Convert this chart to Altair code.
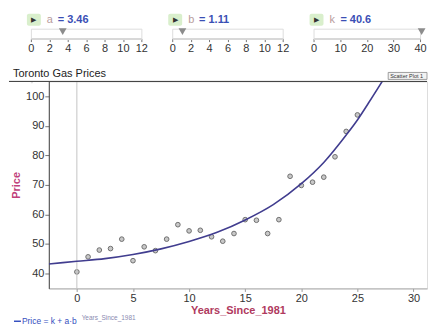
import altair as alt
import pandas as pd

# ---- data ----
slider_names = ["a", "b", "k"]
slider_values = [3.46, 1.11, 40.6]
slider_max = [12, 12, 40]
slider_steps = [2, 2, 10]

years = list(range(26))
prices = [40.5, 45.6, 47.9, 48.4, 51.6, 44.3, 49.0, 47.7, 51.6, 56.5,
          54.4, 54.6, 52.4, 50.9, 53.5, 58.2, 58.0, 53.5, 58.2, 72.9,
          69.8, 70.9, 72.6, 79.5, 88.1, 93.7]

curve_years = [-2.5, 0, 2.5, 5, 7.5, 10, 12.5, 15, 17.5, 20, 22, 24, 25, 26, 27.3]
curve_prices = [43.2, 44.1, 45.0, 46.4, 48.3, 50.8, 53.9, 58.1, 63.3, 70.4,
                77.6, 86.9, 92.0, 97.8, 105.6]

x_ticks = [0, 5, 10, 15, 20, 25, 30]
y_ticks = [40, 50, 60, 70, 80, 90, 100]

FONT = "Liberation Sans"
slider_widths = [111, 111, 107]


def make_slider(i):
    name, val, mx, step = slider_names[i], slider_values[i], slider_max[i], slider_steps[i]
    df = pd.DataFrame({"v": [val], "name": [name], "label": [f"= {val}"]})
    base = alt.Chart(df)
    xs = alt.Scale(domain=[0, mx], nice=False, zero=False)
    handle = base.mark_point(shape="triangle-down", filled=True, color="#8c8c8c",
                             size=60, opacity=1).encode(
        x=alt.X("v:Q", scale=xs,
                axis=alt.Axis(values=list(range(0, mx + 1, step)), title=None, grid=False,
                              tickSize=3, tickColor="#777", domainColor="#d8d8d8",
                              domainWidth=2, labelFontSize=11, labelColor="#333",
                              labelPadding=1, labelFont=FONT, labelFlush=False,
                              labelOverlap=False)),
        y=alt.value(3))
    play_bg = base.mark_rect(color="#d9efcc", cornerRadius=2).encode(
        x=alt.value(-4), x2=alt.value(10), y=alt.value(-15), y2=alt.value(-3))
    play = base.mark_text(text="▶", fontSize=7, color="#333").encode(
        x=alt.value(3), y=alt.value(-9))
    letter = base.mark_text(align="left", baseline="middle", fontSize=11,
                            color="#b99c9c", font=FONT).encode(
        x=alt.value(16), y=alt.value(-9), text="name:N")
    valtext = base.mark_text(align="left", baseline="middle", fontSize=11,
                             fontWeight="bold", color="#3b4fb5", font=FONT).encode(
        x=alt.value(27), y=alt.value(-9), text="label:N")
    layers = [handle, play_bg, play, letter, valtext]
    return alt.layer(*layers).properties(width=slider_widths[i], height=10)


sliders = alt.hconcat(*[make_slider(i) for i in range(3)], spacing=31, bounds="flush")

# ---- main chart ----
W, H = 380, 208
pts_df = pd.DataFrame({"Years_Since_1981": years, "Price": prices})
curve_df = pd.DataFrame({"Years_Since_1981": curve_years, "Price": curve_prices})
zero_df = pd.DataFrame({"Years_Since_1981": [0]})
xs = alt.Scale(domain=[-2.5, 31.2], nice=False, zero=False)
ys = alt.Scale(domain=[34.9, 105.05], nice=False, zero=False)

x_axis = alt.Axis(values=x_ticks, title="Years_Since_1981", grid=False,
                  titleColor="#b03a5e", titleFontWeight="bold", titleFontSize=11,
                  titleFont=FONT, titlePadding=1, labelFont=FONT, labelFontSize=11,
                  labelColor="#333", tickColor="#999", domainColor="#aaa",
                  tickSize=3, labelPadding=1, labelOverlap=False)
y_axis = alt.Axis(values=y_ticks, title="Price", grid=False,
                  titleColor="#c0407a", titleFontWeight="bold", titleFontSize=11,
                  titleFont=FONT, titlePadding=4, labelFont=FONT, labelFontSize=11,
                  labelColor="#333", tickColor="#777", domainColor="#444",
                  tickSize=4, labelPadding=1, labelOverlap=False)

points = alt.Chart(pts_df).mark_point(shape="circle", filled=True, fill="#c8c8c8",
                                      stroke="#707070", strokeWidth=1, size=22,
                                      opacity=1).encode(
    x=alt.X("Years_Since_1981:Q", scale=xs, axis=x_axis),
    y=alt.Y("Price:Q", scale=ys, axis=y_axis))

zero_rule = alt.Chart(zero_df).mark_rule(color="#c4c4c4", strokeWidth=1).encode(
    x=alt.X("Years_Since_1981:Q", scale=xs, axis=x_axis))

curve = alt.Chart(curve_df).mark_line(color="#413d8f", strokeWidth=1.6,
                                      interpolate="monotone", clip=True).encode(
    x=alt.X("Years_Since_1981:Q", scale=xs, axis=x_axis),
    y=alt.Y("Price:Q", scale=ys, axis=y_axis))

deco = alt.Chart(pd.DataFrame({"t": ["Toronto Gas Prices"]}))
top_line = deco.mark_rule(color="#333", strokeWidth=1).encode(
    x=alt.value(-40), x2=alt.value(W), y=alt.value(0))
title_txt = deco.mark_text(align="left", baseline="middle", fontSize=11,
                           color="#222", font=FONT).encode(
    x=alt.value(-36), y=alt.value(-7), text="t:N")
btn = deco.mark_rect(fill="#f2f2f2", stroke="#888", strokeWidth=0.8).encode(
    x=alt.value(341), x2=alt.value(W), y=alt.value(-9), y2=alt.value(-2))
btn_txt = deco.mark_text(align="left", baseline="middle", fontSize=5.5,
                         color="#333", font=FONT, text="Scatter Plot 1").encode(
    x=alt.value(343), y=alt.value(-5.5))

legend_line = deco.mark_rule(color="#3650c0", strokeWidth=1.5).encode(
    x=alt.value(-35), x2=alt.value(-28), y=alt.value(241))
legend_txt = deco.mark_text(align="left", baseline="middle", fontSize=8.5,
                            color="#3650c0", font=FONT, text="Price = k + a·b").encode(
    x=alt.value(-27), y=alt.value(241))
legend_sup = deco.mark_text(align="left", baseline="middle", fontSize=6.5,
                            color="#8a8ab0", font=FONT, text="Years_Since_1981").encode(
    x=alt.value(33), y=alt.value(238))

main = alt.layer(points, zero_rule, curve, top_line, title_txt, btn, btn_txt,
                 legend_line, legend_txt, legend_sup).properties(width=W, height=H)

# invisible 1px spacer that shifts the main panel 18px right of the slider origin
spacer = deco.mark_point(opacity=0).encode(
    x=alt.value(0), y=alt.value(0)).properties(width=1, height=1)
bottom = alt.hconcat(spacer, main, spacing=17, bounds="flush")

chart = alt.vconcat(sliders, bottom, spacing=13).properties(
    padding={"left": 0, "top": 4, "right": 0, "bottom": 0}
).configure_view(stroke=None).configure(font=FONT)

chart.save("out.html", embed_options={"renderer": "svg", "actions": False})
